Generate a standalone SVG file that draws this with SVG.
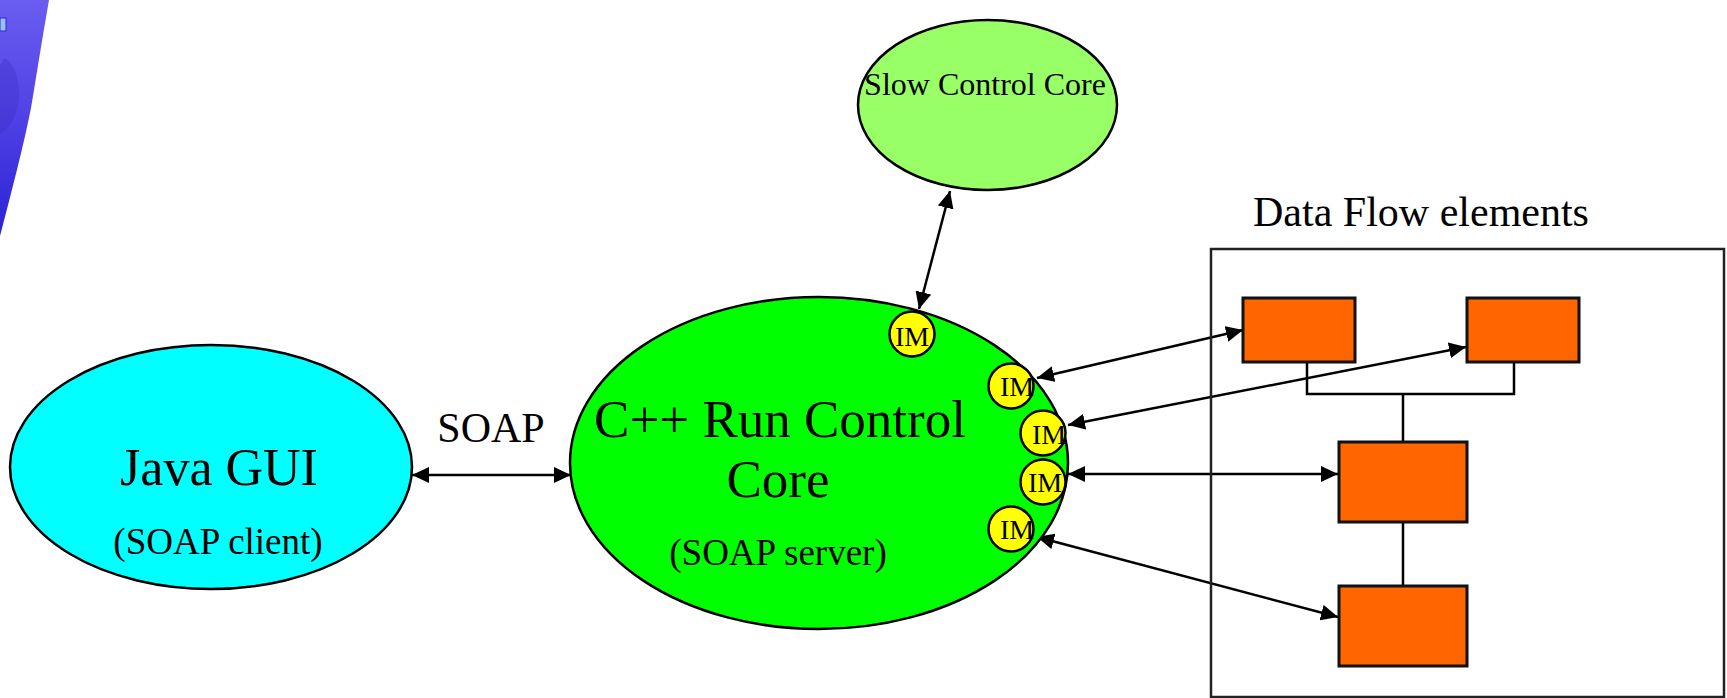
<svg xmlns="http://www.w3.org/2000/svg" width="1727" height="698" viewBox="0 0 1727 698">
  <style>
    text { font-family: "Liberation Serif", "Times New Roman", serif; fill: #000; text-anchor: middle; }
    .node { stroke: #000; stroke-width: 2.5; }
    .im { fill: #ffff00; stroke: #000; stroke-width: 2.5; }
    .im-label { font-size: 28px; }
    .block { fill: #ff6600; stroke: #111; stroke-width: 3; }
    .link { fill: none; stroke: #000; stroke-width: 2.5; }
    .arrow { fill: none; stroke: #000; stroke-width: 2.5; marker-start: url(#head); marker-end: url(#head); }
  </style>
  <defs>
    <marker id="head" markerUnits="userSpaceOnUse" markerWidth="18" markerHeight="16" refX="17" refY="8" orient="auto-start-reverse">
      <path d="M0,0 L17,8 L0,16 Z" fill="#000"/>
    </marker>
    <linearGradient id="photo" x1="0" y1="0" x2="0" y2="1">
      <stop offset="0" stop-color="#6a5df0"/>
      <stop offset="0.45" stop-color="#5244e6"/>
      <stop offset="1" stop-color="#2c22d6"/>
    </linearGradient>
  </defs>

  <!-- corner photo strip -->
  <g id="corner-photo">
    <path d="M0,0 H49 C42,40 36,78 31,108 C23,148 12,190 0,236 Z" fill="url(#photo)"/>
    <path d="M4,58 C13,62 20,78 19,98 C17,116 9,130 0,134 V66 Z" fill="#3b2fc4" opacity="0.35"/>
    <rect x="0" y="18" width="6" height="13" fill="#9cc0ff" stroke="#2a2acc" stroke-width="1"/>
  </g>

  <!-- connectors -->
  <g id="connectors">
    <line class="arrow" x1="412" y1="475" x2="571" y2="475"/>
    <line class="arrow" x1="950" y1="191" x2="919" y2="309"/>
    <line class="arrow" x1="1037" y1="378" x2="1243" y2="330"/>
    <line class="arrow" x1="1068" y1="425" x2="1466" y2="347"/>
    <line class="arrow" x1="1068" y1="474" x2="1338" y2="474"/>
    <line class="arrow" x1="1037" y1="537" x2="1338" y2="617"/>
    <polyline class="link" points="1307,362 1307,394 1514,394 1514,362"/>
    <line class="link" x1="1403" y1="394" x2="1403" y2="442"/>
    <line class="link" x1="1403" y1="522" x2="1403" y2="586"/>
  </g>

  <g id="java-gui">
    <ellipse class="node" cx="211" cy="467" rx="201" ry="122" fill="#00ffff"/>
    <text x="219" y="485" font-size="52">Java GUI</text>
    <text x="218" y="554" font-size="37">(SOAP client)</text>
  </g>

  <g id="soap-label">
    <text x="491" y="442" font-size="42">SOAP</text>
  </g>

  <g id="slow-control-core">
    <ellipse class="node" cx="987.5" cy="105" rx="129.5" ry="85" fill="#99ff66"/>
    <text x="985" y="95" font-size="32">Slow Control Core</text>
  </g>

  <g id="run-control-core">
    <ellipse class="node" cx="819" cy="463" rx="249" ry="166" fill="#00ff00"/>
    <text x="780" y="437" font-size="53">C++ Run Control</text>
    <text x="778" y="497" font-size="53">Core</text>
    <text x="778" y="565" font-size="37">(SOAP server)</text>
  </g>

  <g id="im-1">
    <circle class="im" cx="912" cy="334" r="22.5"/>
    <text class="im-label" x="912" y="346">IM</text>
  </g>
  <g id="im-2">
    <circle class="im" cx="1011" cy="386" r="22.5"/>
    <text class="im-label" x="1017" y="396">IM</text>
  </g>
  <g id="im-3">
    <circle class="im" cx="1043" cy="433" r="22.5"/>
    <text class="im-label" x="1049" y="444">IM</text>
  </g>
  <g id="im-4">
    <circle class="im" cx="1043" cy="482" r="22.5"/>
    <text class="im-label" x="1045" y="492">IM</text>
  </g>
  <g id="im-5">
    <circle class="im" cx="1011" cy="529" r="22.5"/>
    <text class="im-label" x="1017" y="539">IM</text>
  </g>

  <g id="data-flow-elements">
    <text x="1421" y="226" font-size="42">Data Flow elements</text>
    <rect x="1211" y="249" width="513" height="448" fill="none" stroke="#222" stroke-width="2.5"/>
  </g>
  <g id="df-block-1"><rect class="block" x="1243" y="298" width="112" height="64"/></g>
  <g id="df-block-2"><rect class="block" x="1467" y="298" width="112" height="64"/></g>
  <g id="df-block-3"><rect class="block" x="1339" y="442" width="128" height="80"/></g>
  <g id="df-block-4"><rect class="block" x="1339" y="586" width="128" height="80"/></g>
</svg>
